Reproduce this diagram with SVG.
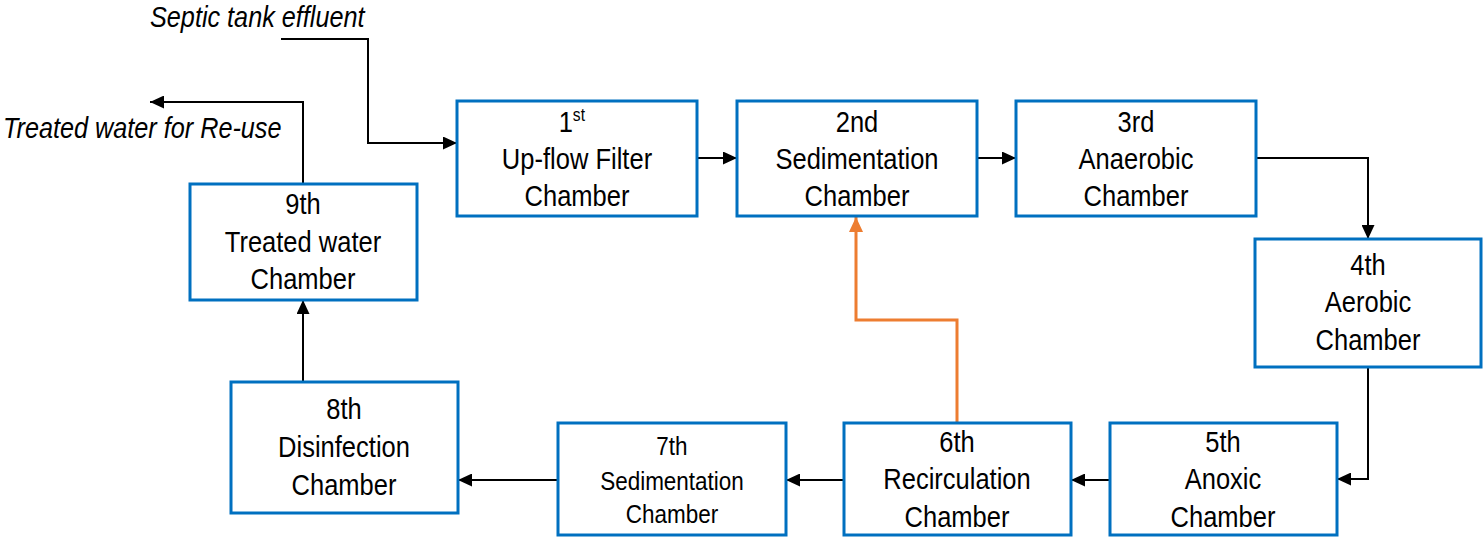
<svg xmlns="http://www.w3.org/2000/svg" width="1483" height="539" viewBox="0 0 1483 539">
<style>
.box{fill:#fff;stroke:#0070C0;stroke-width:3}
.t{font-family:"Liberation Sans",Arial,sans-serif;font-size:29.5px;fill:#000;text-anchor:middle}
.s{font-size:26px}
.it{font-family:"Liberation Sans",Arial,sans-serif;font-size:29px;font-style:italic;fill:#000}
.c{fill:none;stroke:#000;stroke-width:2}
.o{fill:none;stroke:#ED7D31;stroke-width:3}
</style>
<defs>
<marker id="ah" markerUnits="userSpaceOnUse" markerWidth="15" markerHeight="13" refX="14" refY="6.5" orient="auto"><path d="M0,0 L14,6.5 L0,13 z" fill="#000"/></marker>
<marker id="oh" markerUnits="userSpaceOnUse" markerWidth="16" markerHeight="14" refX="15" refY="7" orient="auto"><path d="M0,0 L15,7 L0,14 z" fill="#ED7D31"/></marker>
</defs>
<g id="connectors">
<polyline class="c" points="281,39 368,39 368,143 457,143" marker-end="url(#ah)"/>
<line class="c" x1="697" y1="158" x2="737" y2="158" marker-end="url(#ah)"/>
<line class="c" x1="977" y1="158" x2="1016" y2="158" marker-end="url(#ah)"/>
<polyline class="c" points="1257,158 1368,158 1368,239" marker-end="url(#ah)"/>
<polyline class="c" points="1368,367 1368,479 1337,479" marker-end="url(#ah)"/>
<line class="c" x1="1110" y1="480" x2="1071" y2="480" marker-end="url(#ah)"/>
<line class="c" x1="844" y1="480" x2="786" y2="480" marker-end="url(#ah)"/>
<line class="c" x1="558" y1="480" x2="458" y2="480" marker-end="url(#ah)"/>
<line class="c" x1="303" y1="382" x2="303" y2="300" marker-end="url(#ah)"/>
<polyline class="c" points="303,184 303,102 150,102" marker-end="url(#ah)"/>
<polyline class="o" points="957,423 957,320 856,320 856,217" marker-end="url(#oh)"/>
</g>
<g id="label-in"><text class="it" transform="translate(150,27) scale(0.87 1)" x="0" y="0">Septic tank effluent</text></g>
<g id="label-out"><text class="it" transform="translate(3,138) scale(0.87 1)" x="0" y="0">Treated water for Re-use</text></g>
<g id="n1"><rect class="box" x="457" y="101" width="240" height="115"/>
<g transform="translate(577,0) scale(0.865 1)"><text class="t" x="-6" y="132">1<tspan font-size="18" dy="-11">st</tspan></text><text class="t" x="0" y="169">Up-flow Filter</text><text class="t" x="0" y="206">Chamber</text></g></g>
<g id="n2"><rect class="box" x="737" y="101" width="240" height="115"/>
<g transform="translate(857,0) scale(0.865 1)"><text class="t" x="0" y="132">2nd</text><text class="t" x="0" y="169">Sedimentation</text><text class="t" x="0" y="206">Chamber</text></g></g>
<g id="n3"><rect class="box" x="1016" y="101" width="240" height="115"/>
<g transform="translate(1136,0) scale(0.865 1)"><text class="t" x="0" y="132">3rd</text><text class="t" x="0" y="169">Anaerobic</text><text class="t" x="0" y="206">Chamber</text></g></g>
<g id="n4"><rect class="box" x="1255" y="239" width="226" height="128"/>
<g transform="translate(1368,0) scale(0.865 1)"><text class="t" x="0" y="275">4th</text><text class="t" x="0" y="312">Aerobic</text><text class="t" x="0" y="350">Chamber</text></g></g>
<g id="n5"><rect class="box" x="1110" y="423" width="227" height="112"/>
<g transform="translate(1223,0) scale(0.865 1)"><text class="t" x="0" y="452">5th</text><text class="t" x="0" y="489">Anoxic</text><text class="t" x="0" y="527">Chamber</text></g></g>
<g id="n6"><rect class="box" x="844" y="423" width="227" height="112"/>
<g transform="translate(957,0) scale(0.865 1)"><text class="t" x="0" y="452">6th</text><text class="t" x="0" y="489">Recirculation</text><text class="t" x="0" y="527">Chamber</text></g></g>
<g id="n7"><rect class="box" x="558" y="423" width="228" height="112"/>
<g transform="translate(672,0) scale(0.865 1)"><text class="t s" x="0" y="455">7th</text><text class="t s" x="0" y="490">Sedimentation</text><text class="t s" x="0" y="523">Chamber</text></g></g>
<g id="n8"><rect class="box" x="231" y="382" width="227" height="131"/>
<g transform="translate(344,0) scale(0.865 1)"><text class="t" x="0" y="419">8th</text><text class="t" x="0" y="457">Disinfection</text><text class="t" x="0" y="495">Chamber</text></g></g>
<g id="n9"><rect class="box" x="190" y="184" width="227" height="116"/>
<g transform="translate(303,0) scale(0.865 1)"><text class="t" x="0" y="214">9th</text><text class="t" x="0" y="252">Treated water</text><text class="t" x="0" y="289">Chamber</text></g></g>
</svg>
